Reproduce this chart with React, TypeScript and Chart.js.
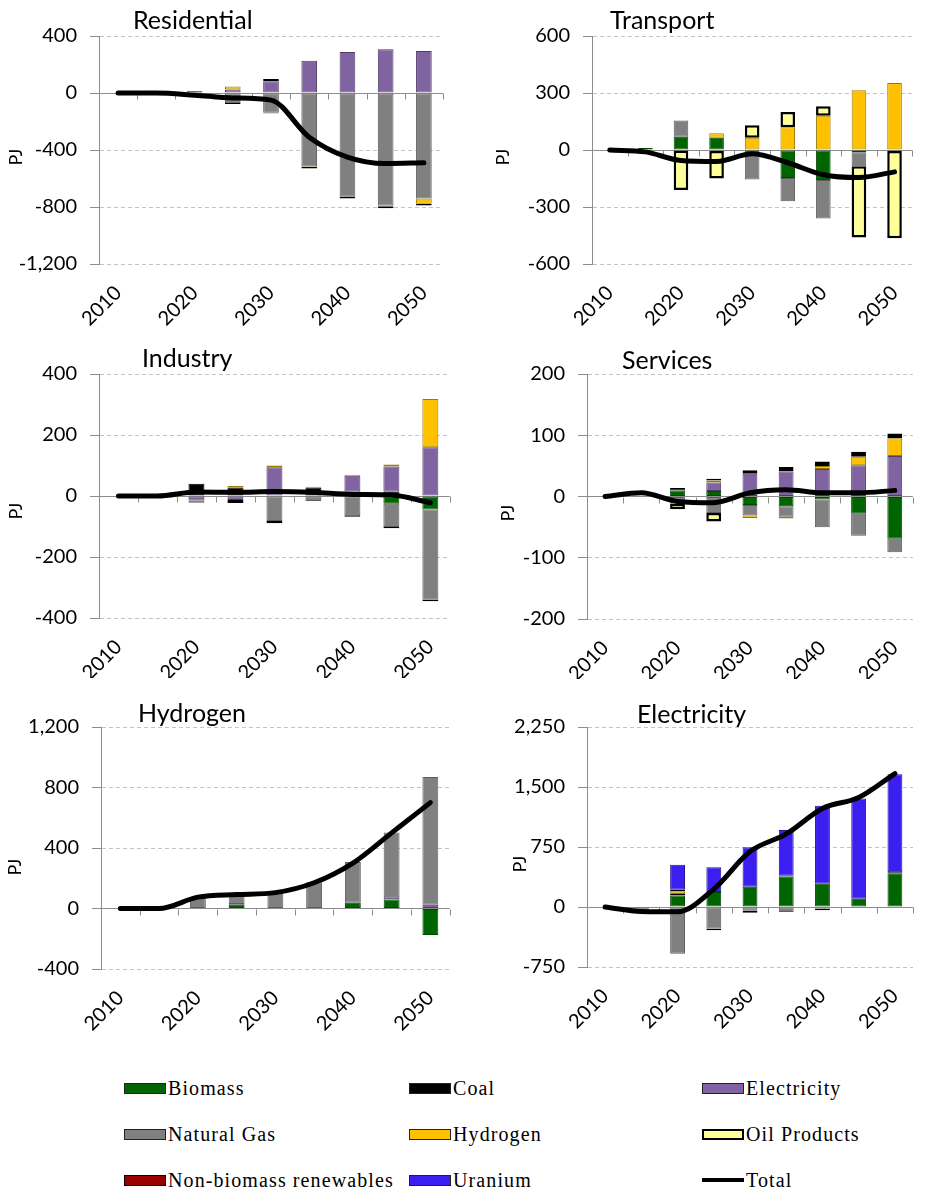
import React, { useEffect, useRef } from "react";
import { Chart, registerables } from "chart.js";

Chart.register(...registerables);

// ---------- data ----------
const years = ["2010", "2015", "2020", "2025", "2030", "2035", "2040", "2045", "2050"];
const xTickLabels = ["2010", "", "2020", "", "2030", "", "2040", "", "2050"];

const seriesNames = [
  "Biomass",
  "Coal",
  "Electricity",
  "Natural Gas",
  "Hydrogen",
  "Oil Products",
  "Non-biomass renewables",
  "Uranium",
];

const none = [0, 0, 0, 0, 0, 0, 0, 0, 0];

// Residential
const resElectricity = [0, 0, 0, 25, 83, 227, 288, 307, 295];
const resGas = [0, 0, -10, -65, -138, -515, -728, -790, -740];
const resHydrogen = [0, 0, 0, 20, -5, -5, 0, -4, -37];
const resOil = [0, 0, 12, -12, 15, -10, -12, -14, -13];
const resTotal = [0, 0, -15, -35, -50, -310, -450, -495, -490];

// Transport
const traBiomass = [0, 10, 70, 65, -5, -148, -158, -12, 0];
const traGas = [0, 0, 85, -5, -150, -122, -203, -74, -5];
const traHydrogen = [0, 0, 0, 23, 65, 120, 180, 315, 352];
const traOil = [0, 0, -210, -145, 65, 80, 50, -374, -460];
const traTotal = [0, -10, -55, -60, -20, -67, -130, -145, -115];

// Industry
const indBiomass = [0, 0, 0, 0, 0, 0, 0, -25, -44];
const indCoal = [0, 0, 40, 28, 0, 28, 15, 15, 0];
const indElectricity = [0, 0, -15, -13, 94, -6, 51, 82, 160];
const indGas = [0, 0, -7, 0, -82, -10, -63, -77, -296];
const indHydrogen = [0, 0, 0, 5, 6, 2, 4, 6, 158];
const indOil = [0, 0, 0, -10, -7, 0, -5, -4, -5];
const indTotal = [0, 0, 13, 12, 15, 12, 5, 3, -22];

// Services
const serBiomass = [0, 0, 10, 9, -14, -16, -5, -28, -69];
const serCoal = [0, 0, 4, 0, 0, 0, 0, 0, 0];
const serElectricity = [0, 0, 0, 14, 37, 41, 45, 51, 66];
const serGas = [0, 0, -12, -27, -17, -17, -45, -36, -22];
const serHydrogen = [0, 0, 0, 3, -4, -3, 5, 14, 29];
const serOil = [0, 0, -9, -14, 0, 0, 0, 0, 0];
const serRenewables = [0, 0, 0, 3, 6, 7, 7, 8, 8];
const serTotal = [0, 6, -8, -10, 6, 11, 6, 6, 10];

// Hydrogen
const hydBiomass = [0, 0, 0, 25, 0, 3, 38, 60, -175];
const hydElectricity = [0, 0, 0, 5, 0, 0, 0, 15, 25];
const hydGas = [0, 0, 72, 65, 106, 171, 270, 427, 845];
const hydTotal = [0, 0, 75, 92, 105, 170, 300, 500, 700];

// Electricity
const eleBiomass = [0, 0, 145, 187, 253, 382, 290, 104, 423];
const eleCoal = [0, 0, 17, 0, 0, 10, 0, 0, 12];
const eleGas = [0, -50, -585, -270, -46, -62, -20, 0, 0];
const eleHydrogen = [0, 0, 33, 0, 0, 0, 0, 0, 0];
const eleOil = [0, 0, 21, -20, -25, 0, -20, -8, 0];
const eleUranium = [0, 0, 311, 311, 494, 571, 976, 1253, 1225];
const eleTotal = [0, -55, -60, 224, 693, 913, 1232, 1369, 1668];

// ---------- styles ----------
const seriesFill = ["#006400", "#000000", "#8064A2", "#808080", "#FFC000", "#FFFF99", "#990000", "#3B1FF0"];
const seriesEdge = ["#004a00", "#000000", "#4f3d68", "#5e5e5e", "#9c7a00", "#000000", "#000000", "#22129a"];
const seriesEdgeWidth = [1, 1, 1, 1, 1, 2.5, 2.5, 1];

const FONT = "Lato";

type Panel = {
  title: string;
  series: number[][];
  total: number[];
  min: number;
  max: number;
  step: number;
  box: { left: number; top: number; w: number; h: number };
  pad: { left: number; right: number; top: number; bottom: number };
  yw: number;
  xh: number;
  titlePos: [number, number];
  pjPos: [number, number];
};

const panels: Panel[] = [
  {
    title: "Residential",
    series: [none, none, resElectricity, resGas, resHydrogen, resOil, none, none],
    total: resTotal,
    min: -1200, max: 400, step: 400,
    box: { left: 0, top: 0, w: 465, h: 340 },
    pad: { left: 0, right: 22, top: 36, bottom: 11 },
    yw: 99, xh: 65,
    titlePos: [133, 29], pjPos: [16, 157],
  },
  {
    title: "Transport",
    series: [traBiomass, none, none, traGas, traHydrogen, traOil, none, none],
    total: traTotal,
    min: -600, max: 600, step: 300,
    box: { left: 465, top: 0, w: 464, h: 340 },
    pad: { left: 0, right: 9, top: 36, bottom: 11 },
    yw: 127, xh: 65,
    titlePos: [145, 29], pjPos: [38, 157],
  },
  {
    title: "Industry",
    series: [indBiomass, indCoal, indElectricity, indGas, indHydrogen, indOil, none, none],
    total: indTotal,
    min: -400, max: 400, step: 200,
    box: { left: 0, top: 340, w: 465, h: 340 },
    pad: { left: 0, right: 12, top: 34, bottom: 2 },
    yw: 99, xh: 60,
    titlePos: [142, 27], pjPos: [16, 171],
  },
  {
    title: "Services",
    series: [serBiomass, serCoal, serElectricity, serGas, serHydrogen, serOil, serRenewables, none],
    total: serTotal,
    min: -200, max: 200, step: 100,
    box: { left: 465, top: 340, w: 464, h: 340 },
    pad: { left: 0, right: 5, top: 34, bottom: 1 },
    yw: 122, xh: 60,
    titlePos: [157, 29], pjPos: [43, 173],
  },
  {
    title: "Hydrogen",
    series: [hydBiomass, none, hydElectricity, hydGas, none, none, none, none],
    total: hydTotal,
    min: -400, max: 1200, step: 400,
    box: { left: 0, top: 680, w: 465, h: 360 },
    pad: { left: 0, right: 12, top: 47, bottom: 6 },
    yw: 101, xh: 65,
    titlePos: [138, 42], pjPos: [15, 187],
  },
  {
    title: "Electricity",
    series: [eleBiomass, eleCoal, none, eleGas, eleHydrogen, eleOil, none, eleUranium],
    total: eleTotal,
    min: -750, max: 2250, step: 750,
    box: { left: 465, top: 680, w: 464, h: 360 },
    pad: { left: 0, right: 2, top: 47, bottom: 8 },
    yw: 122, xh: 65,
    titlePos: [172, 43], pjPos: [55, 184],
  },
];

// ---------- plugins ----------
const axisMarksPlugin = {
  id: "axisMarks",
  beforeDatasetsDraw(chart: any) {
    const { ctx, chartArea, scales } = chart;
    const x = scales.x;
    const y = scales.y;
    const y0 = Math.round(y.getPixelForValue(0)) + 0.5;
    const n = chart.data.labels.length;
    ctx.save();
    ctx.strokeStyle = "#8c8c8c";
    ctx.lineWidth = 1;
    ctx.beginPath();
    for (let i = 1; i <= n; i++) {
      const xb = i < n ? (x.getPixelForValue(i - 1) + x.getPixelForValue(i)) / 2 : chartArea.right;
      const px = Math.round(xb) + 0.5;
      ctx.moveTo(px, y0);
      ctx.lineTo(px, y0 + 6);
    }
    ctx.stroke();
    ctx.restore();
  },
};

const panelTextPlugin = {
  id: "panelText",
  afterDraw(chart: any, _args: any, opts: any) {
    const { ctx } = chart;
    ctx.save();
    ctx.fillStyle = "#000";
    ctx.font = `25px ${FONT}`;
    ctx.textAlign = "left";
    ctx.textBaseline = "alphabetic";
    ctx.fillText(opts.title, opts.titlePos[0], opts.titlePos[1]);
    ctx.font = `18px ${FONT}`;
    ctx.translate(opts.pjPos[0], opts.pjPos[1]);
    ctx.rotate(-Math.PI / 2);
    ctx.textAlign = "center";
    ctx.textBaseline = "middle";
    ctx.fillText(opts.axisTitle, 0, 0);
    ctx.restore();
  },
};

function PanelChart({ cfg }: { cfg: Panel }) {
  const ref = useRef<HTMLCanvasElement>(null);
  useEffect(() => {
    const datasets: any[] = [
      {
        type: "line",
        label: "Total",
        data: cfg.total,
        borderColor: "#000",
        backgroundColor: "#000",
        borderWidth: 5,
        cubicInterpolationMode: "monotone",
        pointRadius: 0,
        fill: false,
        stack: "total",
        order: 0,
        borderCapStyle: "round",
        borderJoinStyle: "round",
      },
      ...seriesNames.map((name, i) => ({
        type: "bar",
        label: name,
        data: cfg.series[i],
        backgroundColor: seriesFill[i],
        borderColor: seriesEdge[i],
        borderWidth: seriesEdgeWidth[i],
        borderSkipped: false,
        stack: "bars",
        order: 1,
        barPercentage: 0.41,
        categoryPercentage: 1,
      })),
    ];
    const chart = new Chart(ref.current as HTMLCanvasElement, {
      type: "bar",
      data: { labels: years, datasets },
      options: {
        responsive: false,
        animation: false,
        events: [],
        layout: { padding: cfg.pad },
        plugins: {
          legend: { display: false },
          tooltip: { enabled: false },
          panelText: { title: cfg.title, axisTitle: "PJ", titlePos: cfg.titlePos, pjPos: cfg.pjPos },
        } as any,
        scales: {
          x: {
            stacked: true,
            grid: { display: false, drawTicks: false },
            border: { display: false },
            ticks: {
              autoSkip: false,
              minRotation: 45,
              maxRotation: 45,
              padding: 17,
              color: "#000",
              font: { family: FONT, size: 20 },
              callback: (_v: any, i: number) => xTickLabels[i],
            },
            afterFit: (s: any) => {
              s.height = cfg.xh;
            },
          },
          y: {
            stacked: true,
            min: cfg.min,
            max: cfg.max,
            ticks: {
              stepSize: cfg.step,
              padding: 13,
              color: "#000",
              font: { family: FONT, size: 20 },
              callback: (v: any) => Number(v).toLocaleString("en-US"),
            },
            grid: {
              color: (c: any) => (c.tick && c.tick.value === 0 ? "#8c8c8c" : "#c4c4c4"),
              tickColor: "#8c8c8c",
              tickLength: 9,
              lineWidth: 1,
            },
            border: {
              display: true,
              color: "#8c8c8c",
              width: 1,
              dash: (c: any) => (c.type === "tick" && c.tick && c.tick.value !== 0 ? [4, 3] : []),
            },
            afterFit: (s: any) => {
              s.width = cfg.yw;
            },
          },
        } as any,
      },
      plugins: [axisMarksPlugin, panelTextPlugin],
    } as any);
    return () => chart.destroy();
  }, [cfg]);
  return (
    <canvas
      ref={ref}
      width={cfg.box.w}
      height={cfg.box.h}
      style={{ position: "absolute", left: cfg.box.left, top: cfg.box.top }}
    />
  );
}

const legendColumns = [124, 409, 702];
const legendRows = [1088, 1134, 1180];

function Legend() {
  const items = [
    ...seriesNames.map((name, i) => ({ name, fill: seriesFill[i], edge: i === 5 || i === 6 ? "#000" : "#222", line: false, bw: i === 5 ? 2 : 1 })),
    { name: "Total", fill: "#000", edge: "#000", line: true, bw: 0 },
  ];
  return (
    <>
      {items.map((it, k) => {
        const col = k % 3;
        const row = Math.floor(k / 3);
        const left = legendColumns[col];
        const cy = legendRows[row];
        return (
          <div key={it.name}>
            {it.line ? (
              <div style={{ position: "absolute", left, top: cy - 2, width: 42, height: 4, background: "#000" }} />
            ) : (
              <div
                style={{
                  position: "absolute",
                  left,
                  top: cy - 5,
                  width: 42,
                  height: 11,
                  boxSizing: "border-box",
                  background: it.fill,
                  border: `${it.bw}px solid ${it.edge}`,
                }}
              />
            )}
            <div
              style={{
                position: "absolute",
                left: left + 44,
                top: cy - 12,
                height: 24,
                lineHeight: "24px",
                fontFamily: "'Liberation Serif', serif",
                fontSize: 20,
                letterSpacing: "1.1px",
                color: "#000",
                whiteSpace: "nowrap",
              }}
            >
              {it.name}
            </div>
          </div>
        );
      })}
    </>
  );
}

export default function App() {
  return (
    <div style={{ position: "absolute", left: 0, top: 0, width: 929, height: 1190, background: "#fff", overflow: "hidden" }}>
      {panels.map((p) => (
        <PanelChart key={p.title} cfg={p} />
      ))}
      <Legend />
    </div>
  );
}
